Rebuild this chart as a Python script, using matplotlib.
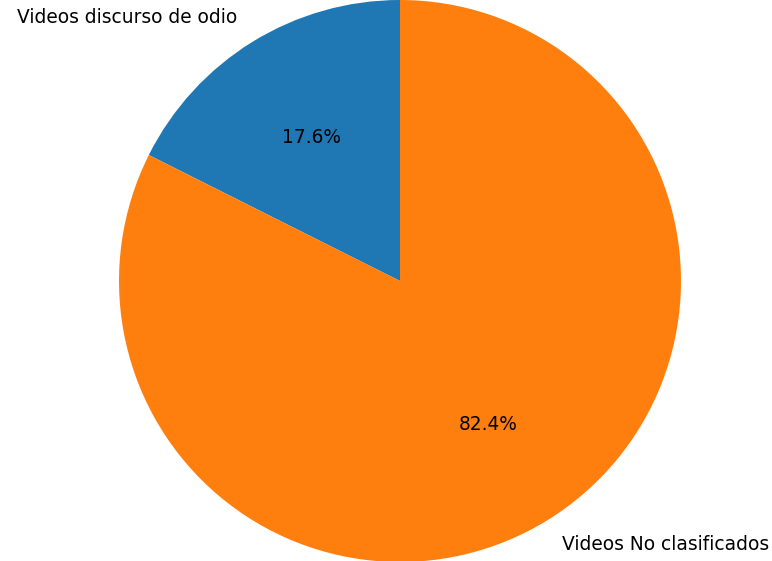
import matplotlib
matplotlib.use("Agg")
import matplotlib.pyplot as plt

etiquetas = ["Videos discurso de odio", "Videos No clasificados"]
porcentajes = [17.6, 82.4]

fig = plt.figure(figsize=(7.72, 5.61), dpi=100)
# pie centrado en (400, 281) px, radio ~281 px
ax = fig.add_axes([119 / 772, -1 / 561, 562 / 772, 562 / 561])
ax.pie(porcentajes, labels=etiquetas, autopct="%1.1f%%", startangle=90,
       textprops={"fontsize": 13.4})
ax.set_xlim(-1, 1)
ax.set_ylim(-1, 1)
ax.set_aspect("equal")

fig.savefig("out.png", dpi=100)
